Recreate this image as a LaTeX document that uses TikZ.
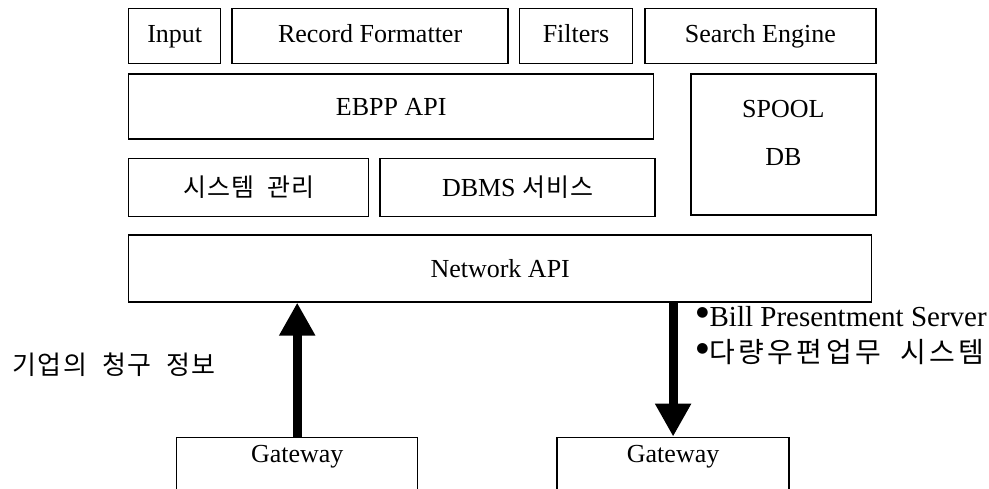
\documentclass[tikz,border=0pt]{standalone}
\usepackage{fontspec}
\setmainfont{Liberation Serif}
\newfontfamily\kr[WordSpace=2]{Noto Sans CJK KR}
\newfontfamily\dvs{DejaVu Sans}
\usetikzlibrary{positioning,arrows.meta}

\newcommand{\bul}{\raisebox{.36em}{\dvs\fontsize{7}{7}\selectfont ●}\hspace{.5pt}}

\begin{document}
\begin{tikzpicture}[
  every node/.style={align=center,font=\fontsize{13}{15}\selectfont},%
  b/.style={draw,line width=0.7pt,inner sep=0pt},%
  top/.style={b,minimum height=27.5pt,text height=9pt,text depth=2.5pt},%
  gw/.style={draw,line width=0.7pt,inner xsep=0pt,inner ysep=4pt,text depth=40pt,anchor=north west},%
  k/.style={font=\kr\fontsize{12.5}{14}\selectfont\addfontfeature{LetterSpace=4}},%
  l/.style={anchor=west,inner sep=0pt,font=\fontsize{14.5}{17}\selectfont},%
  e/.style={-{Triangle[width=17pt,length=16.5pt]},line width=4.5pt},%
  ]

  \useasboundingbox (0,0) rectangle (494.5pt,-244pt);
  \clip (0,0) rectangle (494.5pt,-244pt);

  \node (input) [top,
  minimum width=46pt,
  anchor=north west,
  ] at (64pt,-4pt) {Input};

  \node (record) [top,
  right=5pt of input,
  minimum width=138pt,
  ] {Record Formatter};

  \node (filters) [top,
  right=5pt of record,
  minimum width=56.5pt,
  ] {Filters};

  \node (search) [top,
  right=5.5pt of filters,
  minimum width=115.5pt,
  ] {Search Engine};

  \node (ebpp) [b,
  below right=4.5pt and 0pt of input.south west,
  minimum width=262.5pt,minimum height=32.5pt,
  ] {EBPP API};

  \node (spool) [b,
  below left=4.5pt and 0pt of search.south east,
  minimum width=92.5pt,minimum height=70.5pt,
  text depth=12pt,
  ] {SPOOL\\[9pt]DB};

  \node (sysadmin) [b,k,
  below right=9pt and 0pt of ebpp.south west,
  minimum width=120pt,minimum height=29pt,
  ] {시스템 관리};

  \node (dbms) [b,
  right=5pt of sysadmin,
  minimum width=137.5pt,minimum height=29pt,
  ] {DBMS {\kr\fontsize{12.5}{14}\selectfont\addfontfeature{LetterSpace=4} 서비스}};

  \node (network) [b,
  below right=8.5pt and 0pt of sysadmin.south west,
  minimum width=371.5pt,minimum height=33.5pt,
  ] {Network API};

  \node (gwleft) [gw,
  minimum width=120.5pt,
  ] at ([xshift=24pt,yshift=-67pt]network.south west) {Gateway};

  \node (gwright) [gw,
  minimum width=116pt,
  ] at ([xshift=69pt]gwleft.north east) {Gateway};

  \node (corpinfo) [l,font=\kr\fontsize{13}{15}\selectfont\addfontfeature{LetterSpace=6}]
  at (6pt,-182.5pt) {기업의 청구 정보};

  \node (billserver) [l] at (348pt,-158.5pt) {\bul Bill Presentment Server};

  \node (mailsystem) [l] at (348pt,-176pt)
  {\bul{\kr\fontsize{14}{16}\selectfont\addfontfeature{LetterSpace=12}다량우편업무 시스템}};

  \draw [e] (gwleft.north) -- (gwleft.north |- network.south);
  \draw [e] (network.south -| gwright.north) -- (gwright.north);
\end{tikzpicture}
\end{document}
